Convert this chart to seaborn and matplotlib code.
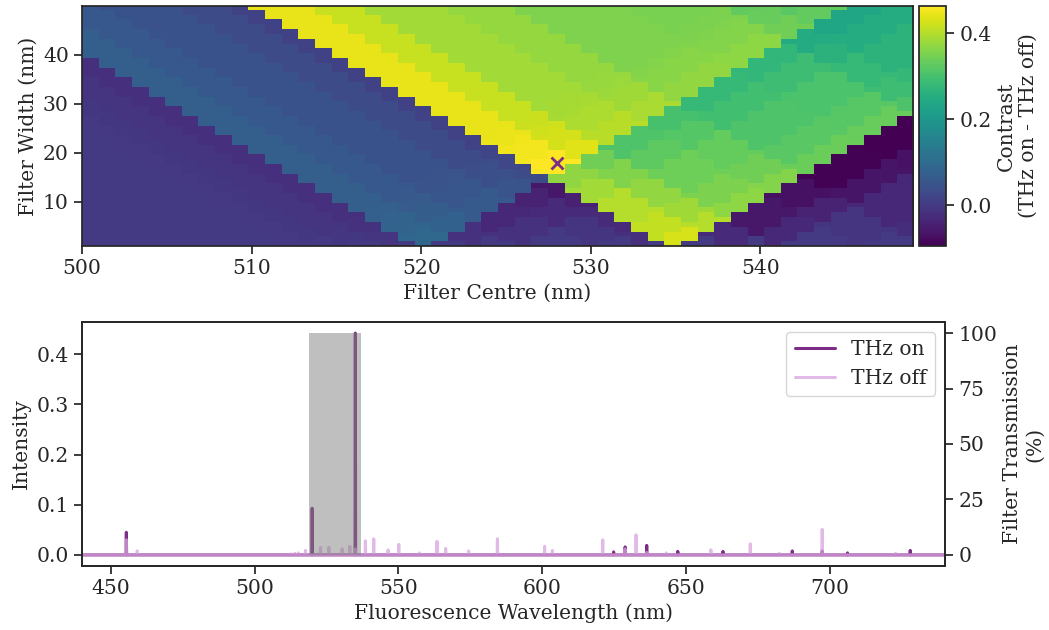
import numpy as np
import pandas as pd
import matplotlib
matplotlib.use('Agg')
import matplotlib.pyplot as plt
import seaborn as sns

# === DATA ===
# garis emisi THz on: posisi (nm) dan tinggi puncak
on_pos = [455.4, 520.0, 535.0, 624.8, 628.8, 636.3, 647.1, 662.8, 686.9, 697.3, 706.1, 727.9]
on_height = [0.045, 0.093, 0.442, 0.006, 0.016, 0.019, 0.007, 0.007, 0.008, 0.008, 0.004, 0.009]

# garis emisi THz off
off_pos = [455.4, 459.2, 512.5, 514.0, 515.2, 517.7, 522.9, 525.8, 530.4, 533.1, 535.0,
           538.5, 541.4, 546.4, 550.1, 557.3, 563.4, 566.4, 574.4, 584.4, 600.8, 603.5,
           621.0, 628.8, 632.6, 636.3, 643.1, 658.6, 672.3, 682.4, 697.3, 722.8]
off_height = [0.030, 0.008, 0.002, 0.003, 0.004, 0.009, 0.015, 0.015, 0.012, 0.017, 0.012,
              0.028, 0.032, 0.010, 0.021, 0.004, 0.027, 0.013, 0.008, 0.032, 0.017, 0.009,
              0.030, 0.012, 0.040, 0.005, 0.004, 0.010, 0.022, 0.003, 0.051, 0.003]

# grid filter yang diuji
filter_centres = np.arange(500, 550)
filter_widths = np.arange(1, 51)
best_centre = 528
best_width = 18

ON_COLOR = '#7d2e84'
OFF_COLOR = '#d9a3df'

# === SPEKTRUM (grid 0.1 nm) ===
wavelength = np.round(np.arange(4400, 7401) / 10, 1)
on_spec = np.zeros(len(wavelength))
off_spec = np.zeros(len(wavelength))
for p, h in zip(on_pos, on_height):
    on_spec[np.argmin(np.abs(wavelength - p))] = h
for p, h in zip(off_pos, off_height):
    off_spec[np.argmin(np.abs(wavelength - p))] = h

df_spec = pd.DataFrame({'wl': wavelength, 'on': on_spec, 'off': off_spec})

# === KONTRAS untuk tiap filter (on - off di dalam jendela) ===
on_p, on_h = np.array(on_pos), np.array(on_height)
off_p, off_h = np.array(off_pos), np.array(off_height)
contrast = np.zeros((len(filter_widths), len(filter_centres)))
for i, w in enumerate(filter_widths):
    for j, c in enumerate(filter_centres):
        lo, hi = c - w / 2, c + w / 2
        contrast[i, j] = (on_h[(on_p >= lo) & (on_p <= hi)].sum()
                          - off_h[(off_p >= lo) & (off_p <= hi)].sum())

# === PLOT ===
sns.set_theme(style='ticks')
plt.rcParams['font.family'] = ['DejaVu Serif']
FS = 14.6
plt.rcParams.update({'font.size': FS, 'axes.labelsize': FS, 'xtick.labelsize': FS,
                     'ytick.labelsize': FS, 'legend.fontsize': FS})

fig = plt.figure(figsize=(10.49, 6.3), dpi=100)
ax1 = fig.add_axes([0.0782, 0.6095, 0.7922, 0.381])
cax = fig.add_axes([0.8761, 0.6095, 0.0257, 0.381])
ax2 = fig.add_axes([0.0782, 0.1016, 0.8227, 0.3873])

# --- Heatmap kontras ---
im = ax1.imshow(contrast, origin='lower', aspect='auto', cmap='viridis', interpolation='nearest',
                extent=[filter_centres.min(), filter_centres.max(), filter_widths.min(), filter_widths.max()])
ax1.plot(best_centre, best_width, 'x', color=ON_COLOR, ms=9, mew=2)
ax1.set_xticks([500, 510, 520, 530, 540])
ax1.set_yticks([10, 20, 30, 40])
ax1.set_xlabel('Filter Centre (nm)')
ax1.set_ylabel('Filter Width (nm)')
cb = fig.colorbar(im, cax=cax, ticks=[0.0, 0.2, 0.4])
cb.set_label('Contrast\n(THz on - THz off)')

# --- Spektrum ---
sns.lineplot(data=df_spec, x='wl', y='on', ax=ax2, color=ON_COLOR, lw=2.2, label='THz on')
sns.lineplot(data=df_spec, x='wl', y='off', ax=ax2, color=OFF_COLOR, lw=2.2, alpha=0.75, label='THz off')
ax2.set_xlim(440, 740)
ax2.set_xlabel('Fluorescence Wavelength (nm)')
ax2.set_ylabel('Intensity')
ax2.legend(loc='upper right')

ax3 = ax2.twinx()
lo, hi = best_centre - best_width / 2, best_centre + best_width / 2
ax3.fill_between([lo, hi], [100, 100], color='grey', alpha=0.5, lw=0)
ax3.set_yticks([0, 25, 50, 75, 100])
ax3.set_ylabel('Filter Transmission\n(%)')
ax3.set_xlim(440, 740)

fig.savefig('out.png', dpi=100)
